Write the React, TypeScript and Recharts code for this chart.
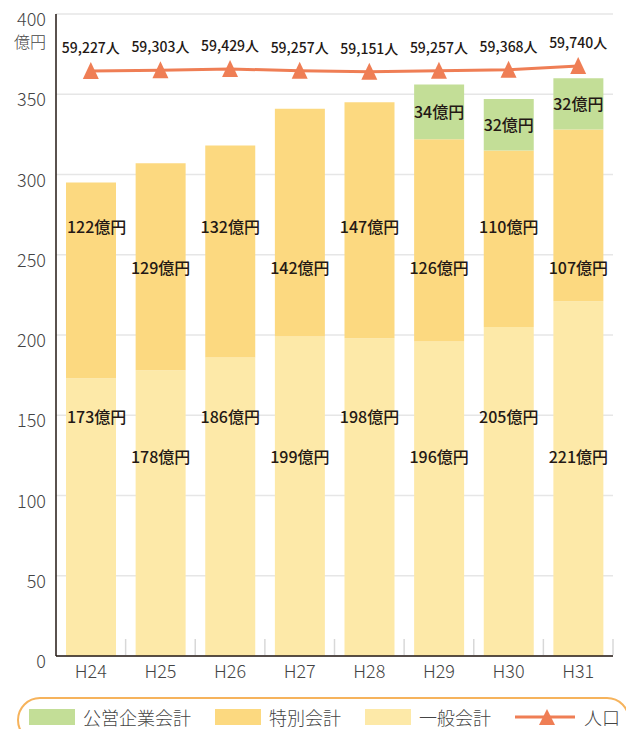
import { ComposedChart, Bar, Line, XAxis, YAxis, CartesianGrid, LabelList, Legend } from 'recharts';

const years = ['H24', 'H25', 'H26', 'H27', 'H28', 'H29', 'H30', 'H31'];
const general = [173, 178, 186, 199, 198, 196, 205, 221];
const special = [122, 129, 132, 142, 147, 126, 110, 107];
const enterprise = [null, null, null, null, null, 34, 32, 32];
const population = [59227, 59303, 59429, 59257, 59151, 59257, 59368, 59740];
const yTicks = [0, 50, 100, 150, 200, 250, 300, 350, 400];

const data = years.map((year, i) => ({
  year,
  general: general[i],
  special: special[i],
  enterprise: enterprise[i],
  population: population[i],
}));

const FONT = "'Noto Sans CJK JP', 'Noto Sans', sans-serif";
const C_ENT = '#c3de97';
const C_SPE = '#fcd980';
const C_GEN = '#fde9a8';
const C_POP = '#ef7e55';
const TXT = '#231815';

// label rows: the flat labels alternate between two heights, in axis units
const GEN_ROWS = [149, 124];
const SPE_ROWS = [267, 242];

const money = (v: any) => `${v}億円`;

function rowLabel(rows: number[], below: number[] | null) {
  return (props: any) => {
    const { x, y, width, height, value, index } = props;
    if (value == null) return null;
    const unit = height / value;
    const zeroY = y + height + (below ? below[index] * unit : 0);
    const ly = zeroY - rows[index % 2] * unit;
    const first = index === 0;
    return (
      <text x={first ? x + 1 : x + width / 2} y={ly + 6} textAnchor={first ? 'start' : 'middle'}
        fontFamily={FONT} fontSize={16} fontWeight={500} fill={TXT}>
        {money(value)}
      </text>
    );
  };
}

const EntLabel = (props: any) => {
  const { x, y, width, height, value } = props;
  if (value == null) return null;
  return (
    <text x={x + width / 2} y={y + height / 2 + 6} textAnchor="middle"
      fontFamily={FONT} fontSize={16} fontWeight={500} fill={TXT}>
      {money(value)}
    </text>
  );
};

const PopLabel = (props: any) => {
  const { x, y, value } = props;
  return (
    <text x={x} y={y - 18} textAnchor="middle" fontFamily={FONT} fontSize={14} fontWeight={500} fill={TXT}>
      {value.toLocaleString('en-US')}人
    </text>
  );
};

const Triangle = (props: any) => {
  const { cx, cy } = props;
  if (cx == null) return null;
  return <polygon points={`${cx},${cy - 9} ${cx - 8},${cy + 8} ${cx + 8},${cy + 8}`} fill={C_POP} />;
};

const YTick = (props: any) => {
  const { x, y, payload } = props;
  return (
    <g>
      <text x={x} y={y + 12} textAnchor="end" fontFamily={FONT} fontSize={18} fontWeight={300} fill="#444">
        {payload.value}
      </text>
      {payload.value === 400 && (
        <text x={x} y={y + 34} textAnchor="end" fontFamily={FONT} fontSize={16} fontWeight={300} fill="#444">
          億円
        </text>
      )}
    </g>
  );
};

const XTick = (props: any) => {
  const { x, y, payload } = props;
  const edge = x + (payload.offset ?? 34.8);
  return (
    <g>
      <line x1={edge} x2={edge} y1={y - 17} y2={y - 1} stroke="#d8d8d8" strokeWidth={1.5} />
      <text x={x} y={y + 22} textAnchor="middle" fontFamily={FONT} fontSize={18} fontWeight={300} fill="#444">
        {payload.value}
      </text>
    </g>
  );
};

const legendItems = [
  { name: '公営企業会計', color: C_ENT },
  { name: '特別会計', color: C_SPE },
  { name: '一般会計', color: C_GEN },
];

const LegendBox = () => (
  <div style={{
    boxSizing: 'border-box', width: 613, height: 46, border: `2px solid #f6b35c`, borderRadius: 23,
    display: 'flex', alignItems: 'center', paddingLeft: 10, paddingBottom: 6, fontFamily: FONT, fontSize: 18,
    fontWeight: 300, color: '#444',
  }}>
    {legendItems.map((it) => (
      <div key={it.name} style={{ display: 'flex', alignItems: 'center', marginRight: 24 }}>
        <span style={{ display: 'inline-block', width: 46, height: 16, background: it.color, marginRight: 8 }} />
        <span>{it.name}</span>
      </div>
    ))}
    <div style={{ display: 'flex', alignItems: 'center' }}>
      <svg width={60} height={18} style={{ marginRight: 9 }}>
        <line x1={0} x2={60} y1={9} y2={9} stroke={C_POP} strokeWidth={3} />
        <polygon points="32,1 24,17 40,17" fill={C_POP} />
      </svg>
      <span>人口</span>
    </div>
  </div>
);

export default function App() {
  return (
    <div style={{ position: 'absolute', left: 0, top: 0 }}>
      <ComposedChart width={626} height={729} data={data}
        margin={{ top: 14, right: 13, left: 0, bottom: 43 }} style={{ overflow: 'visible' }}>
        <CartesianGrid vertical={false} stroke="#e6e6e6" strokeWidth={1.5} />
        <XAxis dataKey="year" height={30} tickSize={0} tickMargin={0} tick={<XTick />} stroke={TXT} strokeWidth={1.5} />
        <YAxis domain={[0, 400]} ticks={yTicks} width={56} tickSize={0} tickMargin={10} tick={<YTick />}
          stroke={TXT} strokeWidth={1.5} />
        <YAxis yAxisId="pop" orientation="right" domain={[0, 65000]} hide />
        <Bar dataKey="general" stackId="a" fill={C_GEN} barSize={50} isAnimationActive={false}>
          <LabelList dataKey="general" content={rowLabel(GEN_ROWS, null)} />
        </Bar>
        <Bar dataKey="special" stackId="a" fill={C_SPE} barSize={50} isAnimationActive={false}>
          <LabelList dataKey="special" content={rowLabel(SPE_ROWS, general)} />
        </Bar>
        <Bar dataKey="enterprise" stackId="a" fill={C_ENT} barSize={50} isAnimationActive={false}>
          <LabelList dataKey="enterprise" content={EntLabel} />
        </Bar>
        <Line yAxisId="pop" dataKey="population" stroke={C_POP} strokeWidth={3} dot={<Triangle />}
          activeDot={false} isAnimationActive={false}>
          <LabelList dataKey="population" content={PopLabel} />
        </Line>
        <Legend verticalAlign="middle" align="center" content={<LegendBox />}
          wrapperStyle={{ left: 17, top: 697, bottom: 'auto', width: 613, height: 46 }} />
      </ComposedChart>
    </div>
  );
}
